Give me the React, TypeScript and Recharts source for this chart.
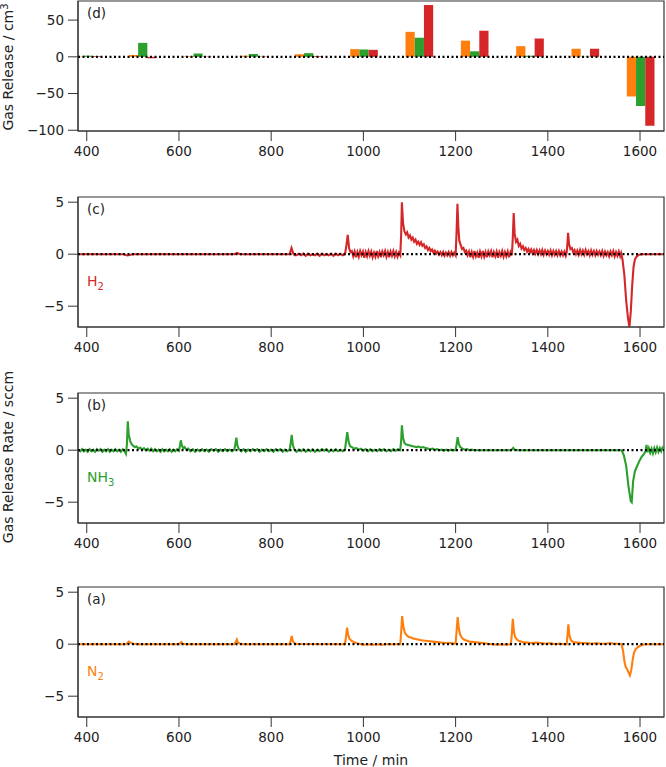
import React from 'react';
import { ComposedChart, Line, Bar, XAxis, YAxis, ReferenceLine, ReferenceArea } from 'recharts';

// axis ticks
const xTicks = [400, 600, 800, 1000, 1200, 1400, 1600];
const rateTicks = [-5, 0, 5];
const releaseTicks = [-100, -50, 0, 50];

// (d) integrated release per step, cm3
const stepTimes = [401, 521, 641, 761, 881, 1001, 1121, 1241, 1361, 1481, 1601];
const n2Release = [0.5, 2.5, 1, 1.5, 3.5, 10.5, 34, 22, 14.5, 11, -54];
const nh3Release = [1.5, 19, 4.5, 4, 5, 10, 26, 7.5, 1.5, 0.3, -67];
const h2Release = [1, -2, 0.5, 0.5, 1, 9.5, 70.5, 35.5, 25, 11, -94];

type Pt = [number, number];

// (c) H2 release rate, sccm  [time, rate]
const h2Rate: Pt[] = [
  [381, 0], [480, 0], [488, -0.12], [495, -0.05], [500, 0], [720, 0], [726, 0.12], [732, 0],
  [840, 0], [844, 0.6], [848, 0.05], [851, -0.1], [855, -0.1], [860, 0.05], [865, -0.1], [870, 0.05],
  [875, -0.15], [880, 0.05], [885, -0.1], [890, 0], [895, -0.1], [900, 0.05], [905, -0.15], [910, 0.05],
  [915, -0.1], [920, 0], [925, -0.1], [930, 0.05], [935, -0.15], [940, 0.05], [945, -0.1], [950, 0.05],
  [955, -0.1], [960, 0], [963, 0.8], [966, 1.85], [969, 0.6], [972, 0.2],
  [975, 0.3], [978, -0.2], [981, 0.25], [984, -0.3], [987, 0.2], [990, -0.25], [993, 0.3], [996, -0.1],
  [999, 0.25], [1002, -0.35], [1005, 0.2], [1008, -0.2], [1011, 0.3], [1014, -0.15], [1017, 0.25], [1020, -0.3],
  [1023, 0.15], [1026, -0.25], [1029, 0.3], [1032, -0.2], [1035, 0.2], [1038, -0.3], [1041, 0.25], [1044, -0.1],
  [1047, 0.3], [1050, -0.25], [1053, 0.2], [1056, -0.3], [1059, 0.25], [1062, -0.15], [1065, 0.3], [1068, -0.2],
  [1071, 0.2], [1074, -0.25], [1077, 0.15], [1080, -0.1],
  [1082, 2.0], [1083.5, 5.0], [1086, 3.0], [1089, 2.2], [1092, 1.9], [1095, 2.1], [1098, 1.6], [1101, 1.8],
  [1104, 1.4], [1107, 1.6], [1110, 1.2], [1113, 1.4], [1116, 1.0], [1119, 1.2], [1122, 0.9], [1125, 1.15],
  [1128, 0.8], [1131, 0.95], [1134, 0.6], [1137, 0.75], [1140, 0.4], [1143, 0.6], [1146, 0.3], [1149, 0.45],
  [1152, 0.15], [1155, 0.35], [1158, 0.05], [1161, 0.25], [1164, -0.05], [1167, 0.2], [1170, -0.1], [1173, 0.2],
  [1176, -0.15], [1179, 0.15], [1182, -0.1], [1185, 0.2], [1188, -0.15], [1191, 0.2], [1194, -0.1], [1197, 0.15],
  [1200, -0.1],
  [1202, 2.0], [1204, 4.85], [1206, 2.5], [1208, 1.3], [1211, 0.9], [1214, 0.5], [1217, 0.6], [1220, 0.2],
  [1223, 0.35], [1226, -0.1], [1229, 0.25], [1232, -0.3], [1235, 0.2], [1238, -0.25], [1241, 0.3], [1244, -0.2],
  [1247, 0.15], [1250, -0.35], [1253, 0.25], [1256, -0.2], [1259, 0.3], [1262, -0.25], [1265, 0.2], [1268, -0.3],
  [1271, 0.25], [1274, -0.1], [1277, 0.3], [1280, -0.3], [1283, 0.2], [1286, -0.2], [1289, 0.25], [1292, -0.35],
  [1295, 0.2], [1298, -0.15], [1301, 0.3], [1304, -0.25], [1307, 0.2], [1310, -0.2], [1313, 0.25], [1316, -0.3],
  [1319, 0.2], [1322, -0.1],
  [1324, 1.5], [1326, 3.95], [1328, 2.0], [1331, 1.2], [1334, 1.4], [1337, 0.8], [1340, 1.0], [1343, 0.55],
  [1346, 0.75], [1349, 0.4], [1352, 0.6], [1355, 0.25], [1358, 0.5], [1361, 0.15], [1364, 0.45], [1367, 0.1],
  [1370, 0.4], [1373, 0.05], [1376, 0.4], [1379, 0], [1382, 0.35], [1385, 0], [1388, 0.4], [1391, -0.05],
  [1394, 0.35], [1397, 0], [1400, 0.3], [1403, -0.05], [1406, 0.35], [1409, -0.1], [1412, 0.3], [1415, -0.05],
  [1418, 0.3], [1421, -0.1], [1424, 0.3], [1427, -0.1], [1430, 0.25], [1433, -0.1], [1436, 0.25], [1439, -0.15],
  [1441, 0.2],
  [1442.5, 1.0], [1444, 2.05], [1446, 1.0], [1449, 0.5], [1452, 0.6], [1455, 0.2], [1458, 0.4], [1461, 0],
  [1464, 0.35], [1467, -0.05], [1470, 0.4], [1473, 0], [1476, 0.35], [1479, -0.05], [1482, 0.4], [1485, 0],
  [1488, 0.3], [1491, -0.1], [1494, 0.35], [1497, -0.05], [1500, 0.3], [1503, -0.1], [1506, 0.3], [1509, -0.05],
  [1512, 0.25], [1515, -0.1], [1518, 0.3], [1521, -0.15], [1524, 0.25], [1527, -0.1], [1530, 0.2], [1533, -0.2],
  [1536, 0.25], [1539, -0.1], [1542, 0.3], [1545, -0.2], [1548, 0.2], [1551, -0.15], [1554, 0.25], [1557, -0.2],
  [1559, 0.1],
  [1562, -0.5], [1566, -2.0], [1570, -4.5], [1574, -6.2], [1577, -7.0], [1580, -5.5], [1583, -3.0], [1586, -1.2],
  [1589, -0.5], [1593, -0.2], [1598, -0.05], [1605, 0], [1652, 0],
];

// (b) NH3 release rate, sccm
const nh3Rate: Pt[] = [
  [381, 0.05], [386, -0.1], [390, 0.1], [394, -0.1], [398, 0.05], [402, -0.15], [406, 0.1], [410, -0.1],
  [414, 0.05], [418, -0.15], [422, 0.1], [426, -0.05], [430, 0.1], [434, -0.15], [438, 0.05], [442, -0.1],
  [446, 0.1], [450, -0.15], [454, 0.05], [458, -0.1], [462, 0.1], [466, -0.1], [470, 0.05], [474, -0.15],
  [478, 0.1], [482, -0.1], [485, -0.35], [487, 0.5], [489, 2.78], [491, 1.5], [494, 0.9], [497, 0.6],
  [500, 0.45], [504, 0.3], [508, 0.35], [512, 0.15], [516, 0.25], [520, 0.05], [524, 0.2], [528, 0],
  [532, 0.15], [536, -0.05], [540, 0.15], [544, -0.1], [548, 0.1], [552, -0.1], [556, 0.05], [560, -0.15],
  [564, 0.1], [568, -0.1], [572, 0.05], [576, -0.1], [580, 0.1], [584, -0.15], [588, 0.05], [592, -0.1],
  [596, 0.1], [600, -0.05], [602, 0.4], [604, 0.95], [606, 0.5], [609, 0.2], [612, 0.3], [616, 0.05],
  [620, 0.15], [625, -0.1], [630, 0.1], [635, -0.15], [640, 0.05], [645, -0.1], [650, 0.1], [655, -0.1],
  [660, 0.05], [665, -0.15], [670, 0.1], [675, -0.05], [680, 0.1], [685, -0.15], [690, 0.05], [695, -0.1],
  [700, 0.1], [705, -0.1], [710, 0.05], [715, -0.1], [720, 0.05], [722, 0.5], [724.5, 1.2], [727, 0.4],
  [730, 0.1], [735, -0.1], [740, 0.1], [745, -0.15], [750, 0.05], [755, -0.1], [760, 0.1], [765, -0.05],
  [770, 0.1], [775, -0.15], [780, 0.05], [785, -0.1], [790, 0.1], [795, -0.1], [800, 0.05], [805, -0.15],
  [810, 0.1], [815, -0.05], [820, 0.1], [825, -0.15], [830, 0.05], [835, -0.1], [840, 0.05], [842, 0.6],
  [844.5, 1.47], [847, 0.5], [850, 0.1], [855, -0.15], [860, 0.05], [865, -0.1], [870, 0.1], [875, -0.15],
  [880, 0.05], [885, -0.1], [890, 0.1], [895, -0.15], [900, 0.05], [905, -0.1], [910, 0.1], [915, -0.05],
  [920, 0.1], [925, -0.15], [930, 0.05], [935, -0.1], [940, 0.1], [945, -0.1], [950, 0.05], [955, -0.1],
  [960, 0.05], [962, 0.7], [965, 1.73], [968, 0.8], [971, 0.4], [975, 0.3], [980, 0.15], [985, 0.2],
  [990, 0.05], [995, 0.15], [1000, -0.05], [1005, 0.1], [1010, -0.1], [1015, 0.1], [1020, -0.1], [1025, 0.05],
  [1030, -0.1], [1035, 0.1], [1040, -0.05], [1045, 0.1], [1050, -0.1], [1055, 0.05], [1060, -0.1], [1065, 0.1],
  [1070, -0.05], [1075, 0.1], [1080, 0], [1082, 1.0], [1083.5, 2.4], [1086, 1.2], [1089, 0.7], [1093, 0.55],
  [1097, 0.5], [1101, 0.45], [1105, 0.4], [1110, 0.35], [1115, 0.3], [1120, 0.35], [1125, 0.25], [1130, 0.3],
  [1135, 0.2], [1140, 0.15], [1145, 0.1], [1150, 0.15], [1155, 0.05], [1160, 0.1], [1165, 0], [1170, 0.05],
  [1175, -0.05], [1180, 0.05], [1185, -0.05], [1190, 0.05], [1195, 0], [1200, 0], [1202, 0.5], [1204.5, 1.25],
  [1207, 0.6], [1210, 0.3], [1215, 0.15], [1220, 0.05], [1225, 0.1], [1230, 0], [1235, 0.05], [1240, 0],
  [1320, 0], [1323, 0.1], [1325, 0.22], [1328, 0.05], [1335, 0], [1560, 0], [1565, -0.5], [1570, -1.5],
  [1575, -3.5], [1580, -4.9], [1582, -5.0], [1585, -3.0], [1589, -2.0], [1594, -1.5], [1599, -1.0], [1604, -0.6],
  [1608, -0.4], [1612, -0.1], [1614, 0.5], [1616, -0.2], [1619, 0.2], [1622, -0.25], [1625, 0.15], [1628, -0.3],
  [1631, 0.2], [1634, -0.2], [1637, 0.25], [1640, -0.15], [1643, 0.2], [1646, -0.1], [1649, 0.25], [1652, 0.1],
];

// (a) N2 release rate, sccm
const n2Rate: Pt[] = [
  [381, 0], [485, 0], [488, 0.1], [491, 0.25], [495, 0.15], [500, 0.05], [510, 0], [600, 0],
  [603, 0.1], [605, 0.2], [608, 0.05], [615, 0], [720, 0], [723, 0.2], [725.5, 0.45], [728, 0.15],
  [733, 0.05], [740, 0], [840, 0], [842, 0.3], [844.5, 0.8], [847, 0.3], [850, 0.1], [856, 0.02],
  [960, 0], [962, 0.6], [964.5, 1.6], [967, 0.9], [970, 0.5], [975, 0.3], [980, 0.2], [985, 0.1],
  [990, 0.05], [1000, -0.05], [1010, 0], [1020, -0.05], [1030, 0], [1040, -0.05], [1050, 0], [1080, 0],
  [1082, 1.2], [1084, 2.7], [1087, 1.6], [1090, 1.1], [1094, 0.85], [1098, 0.7], [1103, 0.65], [1108, 0.55],
  [1113, 0.5], [1118, 0.45], [1123, 0.4], [1130, 0.35], [1140, 0.3], [1150, 0.25], [1160, 0.2], [1170, 0.15],
  [1180, 0.12], [1190, 0.1], [1200, 0.05], [1202, 1.2], [1204.5, 2.6], [1207, 1.5], [1210, 0.9], [1214, 0.6],
  [1218, 0.45], [1223, 0.35], [1230, 0.25], [1240, 0.2], [1250, 0.15], [1260, 0.1], [1270, 0.05], [1280, 0],
  [1290, -0.05], [1300, 0], [1310, -0.05], [1320, 0], [1322, 1.0], [1324, 2.45], [1326.5, 1.2], [1329, 0.7],
  [1333, 0.45], [1338, 0.3], [1345, 0.2], [1355, 0.15], [1365, 0.1], [1375, 0.15], [1385, 0.1], [1395, 0.05],
  [1405, 0.1], [1415, 0], [1425, 0.05], [1435, 0], [1441, 0], [1443, 1.0], [1444.5, 1.9], [1447, 0.8],
  [1450, 0.4], [1455, 0.2], [1465, 0.15], [1475, 0.1], [1485, 0.1], [1495, 0.05], [1505, 0.1], [1515, 0.05],
  [1525, 0.05], [1535, 0.1], [1545, 0.05], [1555, 0.05], [1560, 0], [1563, -0.6], [1566, -1.6], [1569, -2.2],
  [1572, -2.4], [1575, -2.7], [1578, -3.0], [1581, -2.5], [1584, -1.5], [1587, -0.8], [1591, -0.45], [1596, -0.25],
  [1602, -0.1], [1610, 0], [1652, 0],
];

const ORANGE = '#ff7f0e';
const GREEN = '#2ca02c';
const RED = '#d62728';

const FONT = '"DejaVu Sans", sans-serif';
const W = 666;
const PLOT_H = 130;
const PAD_TOP = 10;
const AXIS_H = 34;
const X_DOMAIN: [number, number] = [381, 1652];
const RATE_DOMAIN: [number, number] = [-7, 5.5];
const RELEASE_DOMAIN: [number, number] = [-101, 76];

const minus = (v: number) => (v < 0 ? `\u2212${-v}` : `${v}`);
const tickStyle = { fill: '#222', fontSize: 13.5, fontFamily: FONT };

const barRows = stepTimes.map((t, i) => ({ t, n2: n2Release[i], nh3: nh3Release[i], h2: h2Release[i] }));
const barWidth = 20 * (586 / (X_DOMAIN[1] - X_DOMAIN[0]));

function ReleasePanel({ top }: { top: number }) {
  return (
    <div style={{ position: 'absolute', left: 0, top: top - PAD_TOP }}>
      <ComposedChart
        width={W}
        height={PAD_TOP + PLOT_H + AXIS_H}
        data={barRows}
        barGap={0}
        margin={{ top: PAD_TOP, right: 2, bottom: 0, left: 0 }}
      >
        <XAxis type="number" dataKey="t" domain={X_DOMAIN} ticks={xTicks} allowDataOverflow interval={0}
          height={AXIS_H} tickSize={10} tickMargin={5} stroke="#333" tick={tickStyle} />
        <YAxis type="number" domain={RELEASE_DOMAIN} ticks={releaseTicks} allowDataOverflow interval={0}
          width={78} tickSize={10} tickMargin={4} stroke="#333" tick={tickStyle} tickFormatter={minus} />
        <Bar dataKey="n2" fill={ORANGE} barSize={barWidth} isAnimationActive={false} />
        <Bar dataKey="nh3" fill={GREEN} barSize={barWidth} isAnimationActive={false} />
        <Bar dataKey="h2" fill={RED} barSize={barWidth} isAnimationActive={false} />
        <ReferenceLine y={0} stroke="#000" strokeDasharray="2 2.5" strokeWidth={2.2} />
        <ReferenceArea x1={X_DOMAIN[0]} x2={X_DOMAIN[1]} y1={RELEASE_DOMAIN[0]} y2={RELEASE_DOMAIN[1]}
          fill="none" stroke="#333" strokeWidth={1.2} ifOverflow="visible" />
      </ComposedChart>
    </div>
  );
}

function RatePanel({ top, points, color }: { top: number; points: Pt[]; color: string }) {
  const data = points.map(([t, v]) => ({ t, v }));
  return (
    <div style={{ position: 'absolute', left: 0, top: top - PAD_TOP }}>
      <ComposedChart
        width={W}
        height={PAD_TOP + PLOT_H + AXIS_H}
        data={data}
        margin={{ top: PAD_TOP, right: 2, bottom: 0, left: 0 }}
      >
        <XAxis type="number" dataKey="t" domain={X_DOMAIN} ticks={xTicks} allowDataOverflow interval={0}
          height={AXIS_H} tickSize={10} tickMargin={5} stroke="#333" tick={tickStyle} />
        <YAxis type="number" domain={RATE_DOMAIN} ticks={rateTicks} allowDataOverflow interval={0}
          width={78} tickSize={10} tickMargin={4} stroke="#333" tick={tickStyle} tickFormatter={minus} />
        <Line type="linear" dataKey="v" stroke={color} strokeWidth={2.1} dot={false} isAnimationActive={false} />
        <ReferenceLine y={0} stroke="#000" strokeDasharray="2 2.5" strokeWidth={2.2} />
        <ReferenceArea x1={X_DOMAIN[0]} x2={X_DOMAIN[1]} y1={RATE_DOMAIN[0]} y2={RATE_DOMAIN[1]}
          fill="none" stroke="#333" strokeWidth={1.2} ifOverflow="visible" />
      </ComposedChart>
    </div>
  );
}

// plot-area tops of the four panels, top to bottom
const PANEL_TOPS = { d: 1, c: 197, b: 393, a: 587 };

function Annotations() {
  const label = (top: number, letter: string) => (
    <text x={87} y={top + 17} fontSize={13.5} fill="#222">{`(${letter})`}</text>
  );
  const gas = (top: number, base: string, sub: string, color: string) => (
    <text x={87} y={top + 89} fontSize={14} fill={color}>
      {base}
      <tspan dy={4} fontSize={10}>{sub}</tspan>
    </text>
  );
  return (
    <svg width={W} height={767} style={{ position: 'absolute', left: 0, top: 0, pointerEvents: 'none', fontFamily: FONT }}>
      {label(PANEL_TOPS.d, 'd')}
      {label(PANEL_TOPS.c, 'c')}
      {label(PANEL_TOPS.b, 'b')}
      {label(PANEL_TOPS.a, 'a')}
      {gas(PANEL_TOPS.c, 'H', '2', RED)}
      {gas(PANEL_TOPS.b, 'NH', '3', GREEN)}
      {gas(PANEL_TOPS.a, 'N', '2', ORANGE)}
      <text transform="translate(13, 67) rotate(-90)" textAnchor="middle" fontSize={14} fill="#222">
        Gas Release / cm<tspan dy={-5} fontSize={10}>3</tspan>
      </text>
      <text transform="translate(13, 457) rotate(-90)" textAnchor="middle" fontSize={14} fill="#222">
        Gas Release Rate / sccm
      </text>
      <text x={371} y={765} textAnchor="middle" fontSize={14} fill="#222">Time / min</text>
    </svg>
  );
}

export default function App() {
  return (
    <div style={{ position: 'fixed', left: 0, top: 0, width: W, height: 767, background: '#fff', fontFamily: FONT }}>
      <ReleasePanel top={PANEL_TOPS.d} />
      <RatePanel top={PANEL_TOPS.c} points={h2Rate} color={RED} />
      <RatePanel top={PANEL_TOPS.b} points={nh3Rate} color={GREEN} />
      <RatePanel top={PANEL_TOPS.a} points={n2Rate} color={ORANGE} />
      <Annotations />
    </div>
  );
}
